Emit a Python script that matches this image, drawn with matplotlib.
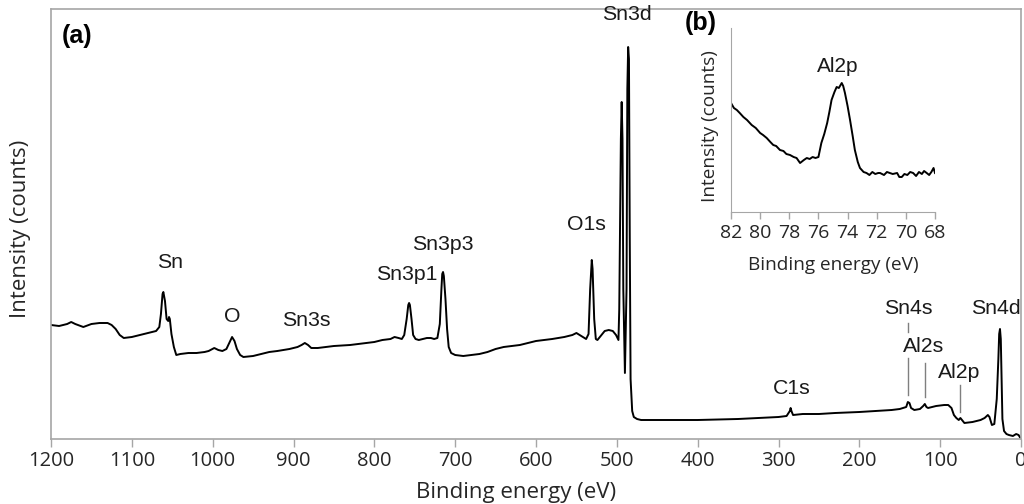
import matplotlib.pyplot as plt

# survey spectrum (binding energy in eV, intensity in arbitrary counts)
energy = [1200, 1190, 1180, 1175, 1170, 1160, 1150, 1140, 1130, 1125, 1120, 1115, 1110,
          1100, 1090, 1080, 1070, 1066, 1064, 1062, 1061, 1059, 1057, 1055, 1054, 1053,
          1051, 1048, 1045, 1040, 1030, 1020, 1010, 1005, 998, 993, 988, 983, 979, 976,
          973, 970, 966, 962, 950, 940, 930, 920, 905, 895, 890, 886, 882, 878, 870, 860,
          850, 830, 810, 800, 790, 780, 775, 770, 766, 763, 760, 758, 757, 756, 754, 752,
          749, 745, 740, 735, 730, 726, 722, 719, 717, 716, 715, 714, 712, 710, 708, 705,
          700, 690, 680, 670, 660, 650, 640, 620, 600, 580, 565, 555, 550, 546, 542, 538,
          535, 533, 531, 530, 528, 526, 524, 520, 515, 510, 505, 501, 498, 497, 495, 494,
          493, 492, 490, 488, 487, 486, 485, 484, 483, 481, 479, 475, 470, 450, 400, 350,
          300, 290, 286, 285, 284, 282, 270, 250, 230, 200, 180, 160, 150, 142, 140, 138,
          136, 132, 125, 121, 119, 117, 115, 105, 95, 90, 86, 83, 80, 77, 75, 73, 70, 60,
          50, 45, 41, 39, 36, 33, 30, 28, 27, 26, 25, 24, 23, 21, 18, 15, 10, 6, 3, 0]
counts = [114, 113, 115, 117, 115, 112, 115, 116, 116, 114, 110, 104, 101,
          102, 104, 106, 108, 112, 125, 145, 147, 138, 120, 118, 122, 120,
          105, 92, 84, 85, 86, 86, 87, 88, 91, 89, 88, 90, 97, 102,
          98, 90, 84, 82, 83, 85, 87, 88, 90, 92, 94, 96, 94, 91, 91, 92,
          93, 94, 96, 97, 99, 100, 102, 101, 100, 104, 120, 134, 136, 134, 120, 104,
          100, 99, 100, 101, 101, 100, 101, 115, 150, 165, 167, 163, 140, 110, 92, 86,
          84, 83, 84, 85, 87, 90, 92, 94, 98, 100, 102, 104, 106, 104, 102, 100,
          105, 150, 179, 170, 120, 100, 99, 103, 108, 109, 108, 104, 99, 130, 300, 337,
          300, 150, 66, 150, 350, 392, 380, 200, 60, 28, 22, 20, 19, 19, 19, 20,
          22, 23, 28, 31, 28, 24, 25, 25, 26, 27, 28, 29, 30, 32, 37, 36,
          31, 29, 30, 33, 35, 32, 31, 33, 34, 34, 31, 24, 21, 19, 21, 19, 16, 17,
          19, 21, 24, 22, 14, 15, 40, 80, 105, 110, 100, 60, 20, 8, 5, 4, 3, 5, 4, 0]

# Al2p high resolution (inset)
energy_b = [82.0, 81.8, 81.6, 81.4, 81.15, 80.9, 80.58, 80.3, 80.0, 79.8, 79.55, 79.3, 79.1,
            78.9, 78.64, 78.4, 78.2, 77.95, 77.7, 77.5, 77.26, 77.0, 76.8, 76.6, 76.4,
            76.2, 76.0, 75.8, 75.6, 75.4, 75.25, 75.1, 74.9, 74.75, 74.6, 74.4, 74.3,
            74.18, 74.0, 73.83, 73.65, 73.5, 73.3, 73.15, 72.9, 72.7, 72.5, 72.3, 72.1,
            71.9, 71.77, 71.5, 71.3, 71.1, 70.9, 70.6, 70.45, 70.28, 70.1, 69.9, 69.7,
            69.5, 69.3, 69.1, 68.9, 68.75, 68.57, 68.4, 68.25, 68.1, 68.0]
counts_b = [109, 104, 102, 99, 95, 92, 87, 84, 79, 77, 74, 70, 67,
            66, 62, 61, 58, 57, 55, 54, 49, 52, 54, 53, 55,
            54, 55, 69, 78, 89, 100, 112, 120, 125, 124, 129, 126,
            119, 106, 92, 76, 62, 50, 44, 40, 39, 37, 40, 38,
            39, 39, 37, 40, 39, 38, 39, 35, 35, 38, 37, 40,
            39, 36, 40, 38, 41, 39, 37, 40, 44, 39]

peak_labels = ['Sn', 'O', 'Sn3s', 'Sn3p1', 'Sn3p3', 'O1s', 'Sn3d', 'C1s',
               'Sn4s', 'Al2s', 'Al2p', 'Sn4d']
label_e = [1053, 976, 884, 760, 715, 538, 487, 284, 140, 120, 77, 31]
label_i = [177, 122, 118, 165, 194, 214, 425, 51, 131, 93, 67, 131]

grey = '#a6a6a6'
tick_font = 'Open Sans'
peak_font = 'Liberation Sans'

fig = plt.figure(figsize=(10.24, 5.04), dpi=100)
ax = fig.add_axes([51 / 1024, 65 / 504, 970 / 1024, 430 / 504])
ax.plot(energy, counts, color='black', lw=1.4)
ax.set_xlim(1200, 0)
ax.set_ylim(0, 430)
ax.set_xticks(range(0, 1201, 100))
ax.set_yticks([])
for s in ax.spines.values():
    s.set_color(grey)
    s.set_linewidth(1.2)
ax.tick_params(axis='x', colors=grey, length=6, width=1, pad=3, labelsize=14.5,
               labelcolor='#262626')
for lab in ax.get_xticklabels():
    lab.set_family(tick_font)

for t, e, i in zip(peak_labels, label_e, label_i):
    ax.text(e, i, t, ha='center', va='center', fontsize=15.3, family=peak_font,
            color='#1a1a1a')

# marker lines for the small peaks
ax.plot([139.5, 139.5], [107, 116], color='#7f7f7f', lw=1)
ax.plot([139.5, 139.5], [44, 81], color='#7f7f7f', lw=1)
ax.plot([119, 119], [42, 76], color='#7f7f7f', lw=1)
ax.plot([76, 76], [27, 54], color='#7f7f7f', lw=1)

fig.text(62 / 1024, 1 - 36 / 504, '(a)', ha='left', va='center', fontsize=18,
         fontweight='bold', family=peak_font)

fig.text(21 / 1024, 1 - 229 / 504, 'Intensity (counts)', rotation=90, ha='center',
         va='center', fontsize=16, family=tick_font, color='#262626')
fig.text(516 / 1024, 1 - 498 / 504, 'Binding energy (eV)', ha='center', va='baseline',
         fontsize=16, family=tick_font, color='#262626')

# inset (b)
axb = fig.add_axes([731 / 1024, (504 - 212) / 504, 204 / 1024, 184 / 504])
axb.plot(energy_b, counts_b, color='black', lw=1.4)
axb.set_xlim(82, 68)
axb.set_ylim(0, 184)
axb.set_xticks(range(68, 83, 2))
axb.set_yticks([])
axb.patch.set_alpha(0)
axb.spines['top'].set_visible(False)
axb.spines['right'].set_visible(False)
axb.spines['left'].set_color(grey)
axb.spines['bottom'].set_color(grey)
axb.tick_params(axis='x', colors=grey, length=5, width=1, pad=4, labelsize=14,
                labelcolor='#262626')
for lab in axb.get_xticklabels():
    lab.set_family(tick_font)
axb.text(74.66, 145, 'Al2p', ha='center', va='center', fontsize=15, family=peak_font,
         color='#1a1a1a')
fig.text(833 / 1024, 1 - 270 / 504, 'Binding energy (eV)', ha='center', va='baseline',
         fontsize=13.7, family=tick_font, color='#262626')
fig.text(710 / 1024, 1 - 126 / 504, 'Intensity (counts)', rotation=90, ha='center',
         va='center', fontsize=13.7, family=tick_font, color='#262626')
fig.text(685 / 1024, 1 - 23 / 504, '(b)', ha='left', va='center', fontsize=18,
         fontweight='bold', family=peak_font)

fig.savefig('out.png', dpi=100)
